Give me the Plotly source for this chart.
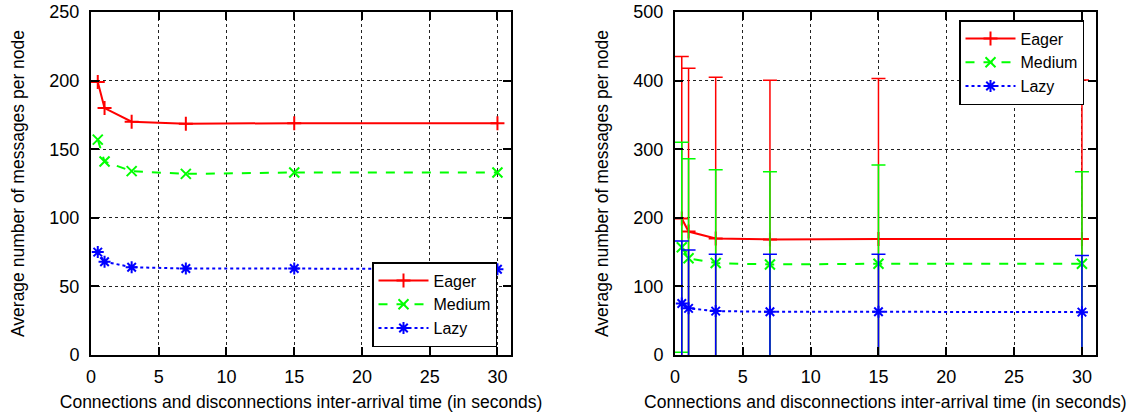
import plotly.graph_objects as go

# Data
x_vals = [0.5, 1, 3, 7, 15, 30]
eager = [199, 180, 170, 168.5, 169, 169]
medium = [157, 141, 134, 132, 133, 133]
lazy = [75, 68, 64, 63, 63, 62.5]
eager_err = [236, 238, 235, 232, 234, 232]
medium_err = [153, 145, 136, 135, 144, 134]
lazy_err = [91, 85, 83, 84, 84, 82.5]
x_ticks = [0, 5, 10, 15, 20, 25, 30]

series_names = ["Eager", "Medium", "Lazy"]
colors = ["#ff0000", "#00ff00", "#0000ff"]
dashes = ["solid", "dash", "dot"]
symbols = ["cross-thin", "x-thin", "asterisk"]

x_title = "Connections and disconnections inter-arrival time (in seconds)"
y_title = "Average number of messages per node"

FONT = "Liberation Sans, Arial, sans-serif"

W, H = 1145, 414


def px(s):
    return s / W


def py(s):
    return 1 - s / H


fig = go.Figure()

values = [eager, medium, lazy]
errors = [eager_err, medium_err, lazy_err]

for i in range(3):
    fig.add_trace(go.Scatter(
        x=x_vals, y=values[i], name=series_names[i], mode="lines+markers",
        line=dict(color=colors[i], dash=dashes[i], width=2),
        marker=dict(symbol=symbols[i], size=10, color=colors[i],
                    line=dict(color=colors[i], width=2)),
        xaxis="x", yaxis="y", legend="legend",
    ))

for i in range(3):
    fig.add_trace(go.Scatter(
        x=x_vals, y=values[i], name=series_names[i], mode="lines+markers",
        line=dict(color=colors[i], dash=dashes[i], width=2),
        marker=dict(symbol=symbols[i], size=10, color=colors[i],
                    line=dict(color=colors[i], width=2)),
        error_y=dict(type="data", array=errors[i], visible=True,
                     color=colors[i], thickness=1.5, width=7),
        xaxis="x2", yaxis="y2", legend="legend2",
    ))

axis_common = dict(
    showline=True, mirror="ticks", linecolor="black", linewidth=2,
    ticks="inside", ticklen=8, tickwidth=1.5, tickcolor="black",
    showgrid=True, gridcolor="#222222", griddash="dot", gridwidth=1,
    zeroline=False, automargin=False, ticklabeloverflow="allow",
    tickfont=dict(family=FONT, size=18, color="black"),
)
xcommon = dict(range=[0, 31], tickvals=x_ticks, ticklabelstandoff=4,
               title=dict(text=x_title, font=dict(size=17.5), standoff=10))
ycommon = dict(ticklabelstandoff=6,
               title=dict(text=y_title, font=dict(size=17.5), standoff=20))

fig.update_layout(
    width=W, height=H,
    margin=dict(l=0, r=0, t=0, b=0, autoexpand=False),
    paper_bgcolor="white", plot_bgcolor="white",
    font=dict(family=FONT, size=17, color="black"),
    xaxis=dict(domain=[px(91), px(511)], anchor="y", **xcommon, **axis_common),
    yaxis=dict(domain=[py(355), py(12)], range=[0, 250], dtick=50, anchor="x",
               **ycommon, **axis_common),
    xaxis2=dict(domain=[px(675), px(1095.5)], anchor="y2", **xcommon, **axis_common),
    yaxis2=dict(domain=[py(355), py(12)], range=[0, 500], dtick=100, anchor="x2",
                **ycommon, **axis_common),
    legend=dict(x=px(497), y=py(347), xanchor="right", yanchor="bottom",
                bgcolor="white", bordercolor="black", borderwidth=1.5,
                font=dict(family=FONT, size=16), itemwidth=50, tracegroupgap=0),
    legend2=dict(x=px(1084), y=py(20), xanchor="right", yanchor="top",
                 bgcolor="white", bordercolor="black", borderwidth=1.5,
                 font=dict(family=FONT, size=16), itemwidth=50, tracegroupgap=0),
    showlegend=True,
)

fig.write_html("out.html", config={"displayModeBar": False},
               post_script="document.body.style.margin='0';")
